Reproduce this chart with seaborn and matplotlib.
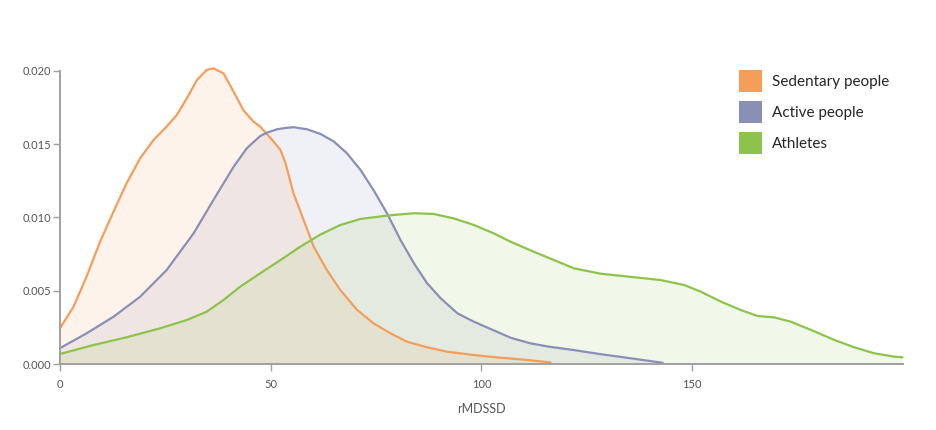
import numpy as np
import pandas as pd
import matplotlib
matplotlib.use("Agg")
import matplotlib.pyplot as plt
from matplotlib.patches import Patch
import seaborn as sns

series_names = ["Sedentary people", "Active people", "Athletes"]
colors = ["#f59e5a", "#8a90b5", "#8dc34b"]

sed_x = [0, 3.2, 6.3, 9.5, 12.7, 15.8, 19, 22.2, 25.3, 27.7, 30.1, 32.5, 34.8, 36.4, 38.8, 41.2,
         43.5, 45.9, 47.5, 49.1, 50.7, 52.3, 53.5, 55.4, 57.8, 60.2, 63.3, 66.5, 70.5, 74.4,
         78.4, 82.3, 87.1, 91.8, 98.2, 103.7, 110, 116.4]
sed_y = [0.00245, 0.00392, 0.00597, 0.00835, 0.0104, 0.01233, 0.01403, 0.01528, 0.01619, 0.01698,
         0.01812, 0.01937, 0.02005, 0.02016, 0.01982, 0.01857, 0.01732, 0.01653, 0.01619, 0.01568,
         0.01517, 0.01460, 0.01370, 0.01165, 0.00983, 0.00801, 0.00643, 0.00506, 0.0037, 0.00279,
         0.00211, 0.00154, 0.00116, 0.00086, 0.00063, 0.00047, 0.00032, 0.00013]

act_x = [0, 6.3, 12.7, 19, 25.3, 31.7, 36.4, 41.2, 44.3, 47.5, 49.1, 51.5, 53.5, 55.4, 58.6, 61.8,
         65, 68.1, 71.3, 74.4, 77.6, 80.8, 84, 87.1, 90.3, 94.3, 98.2, 102.2, 107, 111.6, 116,
         121.9, 128, 135.4, 143]
act_y = [0.0011, 0.00211, 0.00324, 0.0046, 0.00642, 0.00892, 0.01119, 0.01346, 0.01471, 0.01555,
         0.01578, 0.01601, 0.01610, 0.01615, 0.01601, 0.01569, 0.01517, 0.01437, 0.01324, 0.01186,
         0.01028, 0.00846, 0.00687, 0.00552, 0.0045, 0.00347, 0.00290, 0.00240, 0.0018, 0.00143,
         0.0012, 0.00097, 0.0007, 0.00041, 0.0001]

ath_x = [0, 7.9, 15.8, 23.75, 30.1, 34.8, 38.8, 42.75, 47.5, 52.3, 57, 61.8, 66.5, 71.3, 77.6,
         83.9, 88.7, 93.4, 98.2, 102.9, 106.9, 112.4, 117.2, 121.9, 128.3, 136.2, 142.5, 148.1,
         152, 156.8, 161.5, 165.5, 169.4, 173.4, 178.2, 183.7, 188.4, 193.2, 197.9, 199.9]
ath_y = [0.0007, 0.00131, 0.00184, 0.00245, 0.00302, 0.00358, 0.00438, 0.00529, 0.0062, 0.0071,
         0.00801, 0.00884, 0.00949, 0.0099, 0.01013, 0.01029, 0.01024, 0.00994, 0.00949, 0.00892,
         0.00835, 0.00767, 0.0071, 0.00654, 0.00617, 0.00593, 0.00574, 0.0054, 0.00495, 0.00427,
         0.0037, 0.00329, 0.0032, 0.0029, 0.00234, 0.00166, 0.00116, 0.00075, 0.00052, 0.00048]

x_ticks = [0, 50, 100, 150]
y_ticks = [0.000, 0.005, 0.010, 0.015, 0.020]
x_label = "rMDSSD"

frames = []
for name, xs, ys in zip(series_names, [sed_x, act_x, ath_x], [sed_y, act_y, ath_y]):
    frames.append(pd.DataFrame({"group": name, "x": xs, "y": ys}))
df = pd.concat(frames, ignore_index=True)

sns.set_style("white")
plt.rcParams["font.family"] = ["Lato", "DejaVu Sans"]

fig = plt.figure(figsize=(9.36, 4.30), dpi=100)
ax = fig.add_axes([0.0641, 0.1528, 0.9006, 0.6828])

palette = dict(zip(series_names, colors))
for name in series_names:
    sub = df[df["group"] == name]
    ax.fill_between(sub["x"], 0, sub["y"], color=palette[name], alpha=0.12, linewidth=0)
sns.lineplot(data=df, x="x", y="y", hue="group", palette=palette, sort=False,
             estimator=None, linewidth=1.6, legend=False, ax=ax, clip_on=False)
for ln in ax.lines:
    ln.set_solid_joinstyle("round")

ax.set_xlim(0, 200)
ax.set_ylim(0, 0.020)
ax.set_xticks(x_ticks)
ax.set_yticks(y_ticks)
ax.set_yticklabels([f"{v:.3f}" for v in y_ticks])
ax.set_xlabel(x_label, fontsize=9, color="#555555", labelpad=9.5)
ax.set_ylabel("")
for s in ["top", "right"]:
    ax.spines[s].set_visible(False)
for s in ["left", "bottom"]:
    ax.spines[s].set_color("#a0a0a0")
    ax.spines[s].set_linewidth(1.4)
ax.tick_params(axis="both", which="both", length=5, width=1, color="#a0a0a0",
               labelsize=8, labelcolor="#555555")
ax.tick_params(axis="x", pad=5.8, bottom=True)
ax.tick_params(axis="y", left=True, pad=1.5)

handles = [Patch(facecolor=c, edgecolor="none") for c in colors]
fig.legend(handles, series_names, loc="upper left", bbox_to_anchor=(0.789, 0.838),
           frameon=False, fontsize=11, handlelength=1.57, handleheight=1.84,
           labelspacing=0.59, handletextpad=0.6, borderaxespad=0, borderpad=0)

fig.savefig("out.png", dpi=100)
